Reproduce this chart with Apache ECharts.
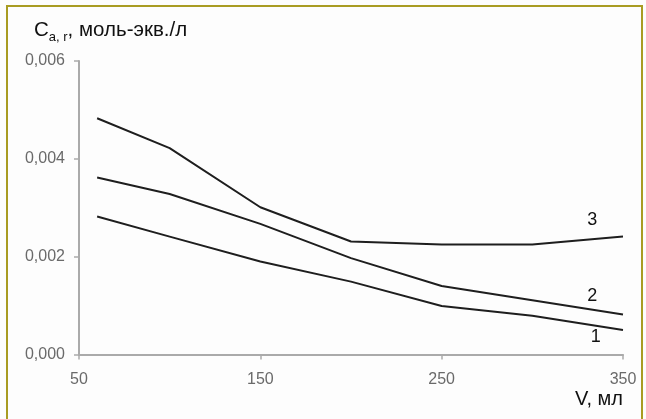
<!DOCTYPE html>
<html>
<head>
<meta charset="UTF-8">
<title>C(V)</title>
<style>
body { margin: 0; padding: 0; background: #fdfdfd; }
#main { width: 646px; height: 419px; }
</style>
</head>
<body>
<div id="main"></div>
<script src="https://cdn.jsdelivr.net/npm/echarts@6/dist/echarts.min.js"></script>
<script>
// объём пробы, мл
var volumes = [60, 100, 150, 200, 250, 300, 350];
// концентрация, моль-экв./л
var curve1 = [0.00282, 0.00241, 0.00190, 0.00149, 0.00099, 0.00079, 0.00050];
var curve2 = [0.00362, 0.00328, 0.00267, 0.00197, 0.00140, 0.00111, 0.00082];
var curve3 = [0.00483, 0.00422, 0.00301, 0.00231, 0.00225, 0.00225, 0.00241];
var curveNames = ['1', '2', '3'];
// где стоят номера кривых (в единицах осей)
var labelPos = [[335, 0.00036], [333, 0.00120], [333, 0.00274]];
var xTicks = [50, 150, 250, 350];
var yTicks = [0, 0.002, 0.004, 0.006];

var chart = echarts.init(document.getElementById('main'));
var font = '"Liberation Sans", Arial, sans-serif';

function pairs(ys) {
    var out = [];
    for (var i = 0; i < volumes.length; i++) out.push([volumes[i], ys[i]]);
    return out;
}

var lineSeries = [curve1, curve2, curve3].map(function (c, i) {
    return {
        name: curveNames[i],
        type: 'line',
        data: pairs(c),
        symbol: 'none',
        lineStyle: { color: '#1e1e1e', width: 2 },
        animation: false
    };
});

chart.setOption({
    backgroundColor: '#fdfdfd',
    grid: { left: 79, right: 23, top: 61, bottom: 64.5 },
    xAxis: {
        type: 'value',
        min: xTicks[0], max: xTicks[xTicks.length - 1], interval: 100,
        splitLine: { show: false },
        axisLine: { lineStyle: { color: '#aaaaaa', width: 2 } },
        axisTick: { show: true, length: 5, lineStyle: { color: '#aaaaaa', width: 1.5 } },
        axisLabel: { color: '#6a6a6a', fontSize: 16, fontFamily: font, margin: 17 }
    },
    yAxis: {
        type: 'value',
        min: yTicks[0], max: yTicks[yTicks.length - 1], interval: 0.002,
        splitLine: { show: false },
        axisLine: { show: true, lineStyle: { color: '#aaaaaa', width: 2 } },
        axisTick: { show: true, length: 5, lineStyle: { color: '#aaaaaa', width: 1.5 } },
        axisLabel: {
            color: '#6a6a6a', fontSize: 16, fontFamily: font, margin: 14,
            formatter: function (v) { return v.toFixed(3).replace('.', ','); }
        }
    },
    series: lineSeries
});

// подписи: рамка, заголовок оси Y, название оси X, номера кривых
var g = [
    {
        type: 'rect', silent: true,
        shape: { x: 7, y: 6, width: 635, height: 430 },
        style: { fill: 'none', stroke: '#a99c22', lineWidth: 2 }
    },
    {
        type: 'text', left: 34, top: 20,
        style: {
            text: '{c|C}{s|a, r}{c|, моль-экв./л}',
            rich: {
                c: { fontSize: 20.5, fontFamily: font, fill: '#111', verticalAlign: 'bottom' },
                s: { fontSize: 13, fontFamily: font, fill: '#111', verticalAlign: 'bottom', padding: [0, 0, -3, 0] }
            }
        }
    },
    {
        type: 'text', right: 23, top: 389,
        style: { text: 'V, мл', fontSize: 20, fontFamily: font, fill: '#111' }
    }
];
labelPos.forEach(function (p, i) {
    var px = chart.convertToPixel({ gridIndex: 0 }, p);
    g.push({
        type: 'text', x: px[0], y: px[1],
        style: { text: curveNames[i], fontSize: 18, fontFamily: font, fill: '#111', align: 'center', verticalAlign: 'middle' }
    });
});
chart.setOption({ graphic: g });
</script>
</body>
</html>
